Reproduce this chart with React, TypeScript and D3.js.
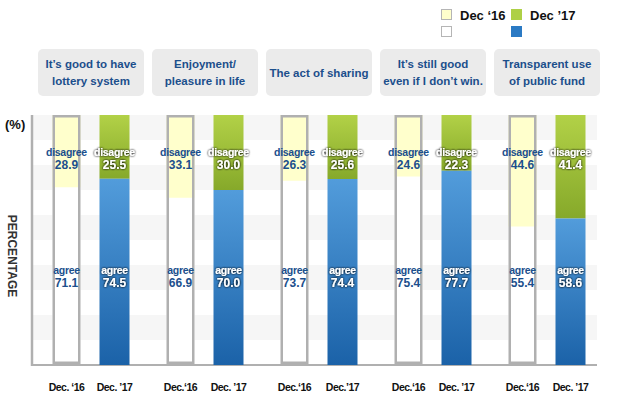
import React from "react";
import * as d3 from "d3";

const categories = [
  ["It\u2019s good to have", "lottery system"],
  ["Enjoyment/", "pleasure in life"],
  ["The act of sharing"],
  ["It\u2019s still good", "even if I don\u2019t win."],
  ["Transparent use", "of public fund"],
];
const dec16Disagree = [28.9, 33.1, 26.3, 24.6, 44.6];
const dec16Agree = [71.1, 66.9, 73.7, 75.4, 55.4];
const dec17Disagree = [25.5, 30.0, 25.6, 22.3, 41.4];
const dec17Agree = [74.5, 70.0, 74.4, 77.7, 58.6];
const dec16Ticks = ["Dec. \u201816", "Dec.\u201816", "Dec.\u201816", "Dec.\u201816", "Dec.\u201816"];
const dec17Ticks = ["Dec. \u201917", "Dec. \u201917", "Dec.\u201917", "Dec. \u201917", "Dec. \u201917"];
const legendLabels = ["Dec \u201816", "Dec \u201917"];

const W = 641;
const H = 400;
const plotLeft = 32;
const plotRight = 597;
const plotTop = 115;
const plotBottom = 365;

export default function App() {
  const y = d3.scaleLinear().domain([0, 100]).range([plotBottom, plotTop]);
  const x = d3.scaleBand<number>().domain(d3.range(5)).range([34, 604]).paddingInner(0).paddingOuter(0);
  const cx = (i: number) => (x(i) as number) + x.bandwidth() / 2;
  const stripes = d3.range(10);
  const stripeH = (plotBottom - plotTop) / 10;
  const font = "'Liberation Sans', Arial, Helvetica, sans-serif";
  const labelBlue = "#1c4f8c";

  return (
    <svg width={W} height={H} style={{ display: "block", position: "absolute", left: 0, top: 0 }} fontFamily={font}>
      <defs>
        <linearGradient id="gGreen" x1="0" y1="0" x2="0" y2="1">
          <stop offset="0%" stopColor="#b2d147" />
          <stop offset="100%" stopColor="#86a92a" />
        </linearGradient>
        <linearGradient id="gBlue" x1="0" y1="0" x2="0" y2="1">
          <stop offset="0%" stopColor="#529cdb" />
          <stop offset="100%" stopColor="#1b62a8" />
        </linearGradient>
        <filter id="glow" x="-20%" y="-40%" width="140%" height="180%">
          <feGaussianBlur in="SourceAlpha" stdDeviation="1.2" result="b" />
          <feFlood floodColor="#000" floodOpacity="0.7" />
          <feComposite in2="b" operator="in" result="s" />
          <feMerge>
            <feMergeNode in="s" />
            <feMergeNode in="s" />
            <feMergeNode in="SourceGraphic" />
          </feMerge>
        </filter>
      </defs>
      <rect x={0} y={0} width={W} height={H} fill="#fff" />

      {/* legend */}
      <rect x={441.5} y={9.5} width={10} height={10} fill="#ffffcc" stroke="#b5b5b5" />
      <rect x={441.5} y={26.5} width={10} height={10} fill="#fff" stroke="#b5b5b5" />
      <text x={460} y={20} fontSize={13} fontWeight="bold" fill="#111">{legendLabels[0]}</text>
      <rect x={511} y={9} width={11} height={11} fill="#aed046" />
      <rect x={511} y={26} width={11} height={11} fill="#2b7ac4" />
      <text x={530} y={20} fontSize={13} fontWeight="bold" fill="#111">{legendLabels[1]}</text>

      {/* category boxes */}
      {categories.map((lines, i) => (
        <g key={"c" + i}>
          <rect x={cx(i) - 53} y={49} width={106} height={47} rx={5} fill="#ebebeb" />
          {lines.map((l, j) => (
            <text key={j} x={cx(i)} y={lines.length === 1 ? 76.5 : 68 + j * 17} textAnchor="middle"
              fontSize={11.5} fontWeight="bold" fill={labelBlue}>{l}</text>
          ))}
        </g>
      ))}

      {/* stripes */}
      {stripes.map((k) => (
        <rect key={"s" + k} x={plotLeft} y={plotTop + k * stripeH} width={plotRight - plotLeft} height={stripeH}
          fill={k % 2 === 0 ? "#f6f6f6" : "#ffffff"} />
      ))}

      {/* axes */}
      <line x1={plotLeft} x2={plotLeft} y1={plotTop} y2={plotBottom + 1} stroke="#b0b0b0" strokeWidth={2.5} />
      <line x1={plotLeft} x2={plotRight} y1={plotBottom} y2={plotBottom} stroke="#b0b0b0" strokeWidth={2} />

      <text x={5} y={129} fontSize={13} fontWeight="bold" fill="#111">(%)</text>
      <text transform={`translate(8,256) rotate(90)`} textAnchor="middle"
        fontSize={12} fontWeight="bold" fill="#333">PERCENTAGE</text>

      {categories.map((_, i) => {
        const c16 = cx(i) - 24.5;
        const c17 = cx(i) + 23.5;
        const w16 = 28;
        const w17 = 30;
        return (
          <g key={"b" + i}>
            {/* Dec '16 */}
            <rect x={c16 - w16 / 2} y={y(100)} width={w16} height={y(0) - y(100) - 2} fill="#fff" />
            <rect x={c16 - w16 / 2} y={y(100)} width={w16} height={y(dec16Agree[i]) - y(100)} fill="#ffffcc" />
            <rect x={c16 - w16 / 2 + 1.25} y={y(100) + 1.25} width={w16 - 2.5} height={y(0) - y(100) - 3.5}
              fill="none" stroke="#b0b0b0" strokeWidth={2.5} />
            {/* Dec '17 */}
            <rect x={c17 - w17 / 2} y={y(100)} width={w17} height={y(dec17Agree[i]) - y(100)} fill="url(#gGreen)" />
            <rect x={c17 - w17 / 2} y={y(dec17Agree[i])} width={w17} height={y(0) - y(dec17Agree[i])} fill="url(#gBlue)" />

            {/* labels */}
            <g fontWeight="bold" textAnchor="middle" fill={labelBlue}>
              <text x={c16} y={156} fontSize={10.5} letterSpacing={-0.3}>disagree</text>
              <text x={c16} y={169} fontSize={12}>{dec16Disagree[i].toFixed(1)}</text>
              <text x={c16} y={274} fontSize={10.5} letterSpacing={-0.3}>agree</text>
              <text x={c16} y={287} fontSize={12}>{dec16Agree[i].toFixed(1)}</text>
            </g>
            <g fontWeight="bold" textAnchor="middle" fill="#fff" filter="url(#glow)">
              <text x={c17} y={156} fontSize={10.5} letterSpacing={-0.3}>disagree</text>
              <text x={c17} y={169} fontSize={12}>{dec17Disagree[i].toFixed(1)}</text>
              <text x={c17} y={274} fontSize={10.5} letterSpacing={-0.3}>agree</text>
              <text x={c17} y={287} fontSize={12}>{dec17Agree[i].toFixed(1)}</text>
            </g>

            <text x={c16} y={391} textAnchor="middle" fontSize={10.5} fontWeight="bold" letterSpacing={-0.5} fill="#111">{dec16Ticks[i]}</text>
            <text x={c17} y={391} textAnchor="middle" fontSize={10.5} fontWeight="bold" letterSpacing={-0.5} fill="#111">{dec17Ticks[i]}</text>
          </g>
        );
      })}
    </svg>
  );
}
